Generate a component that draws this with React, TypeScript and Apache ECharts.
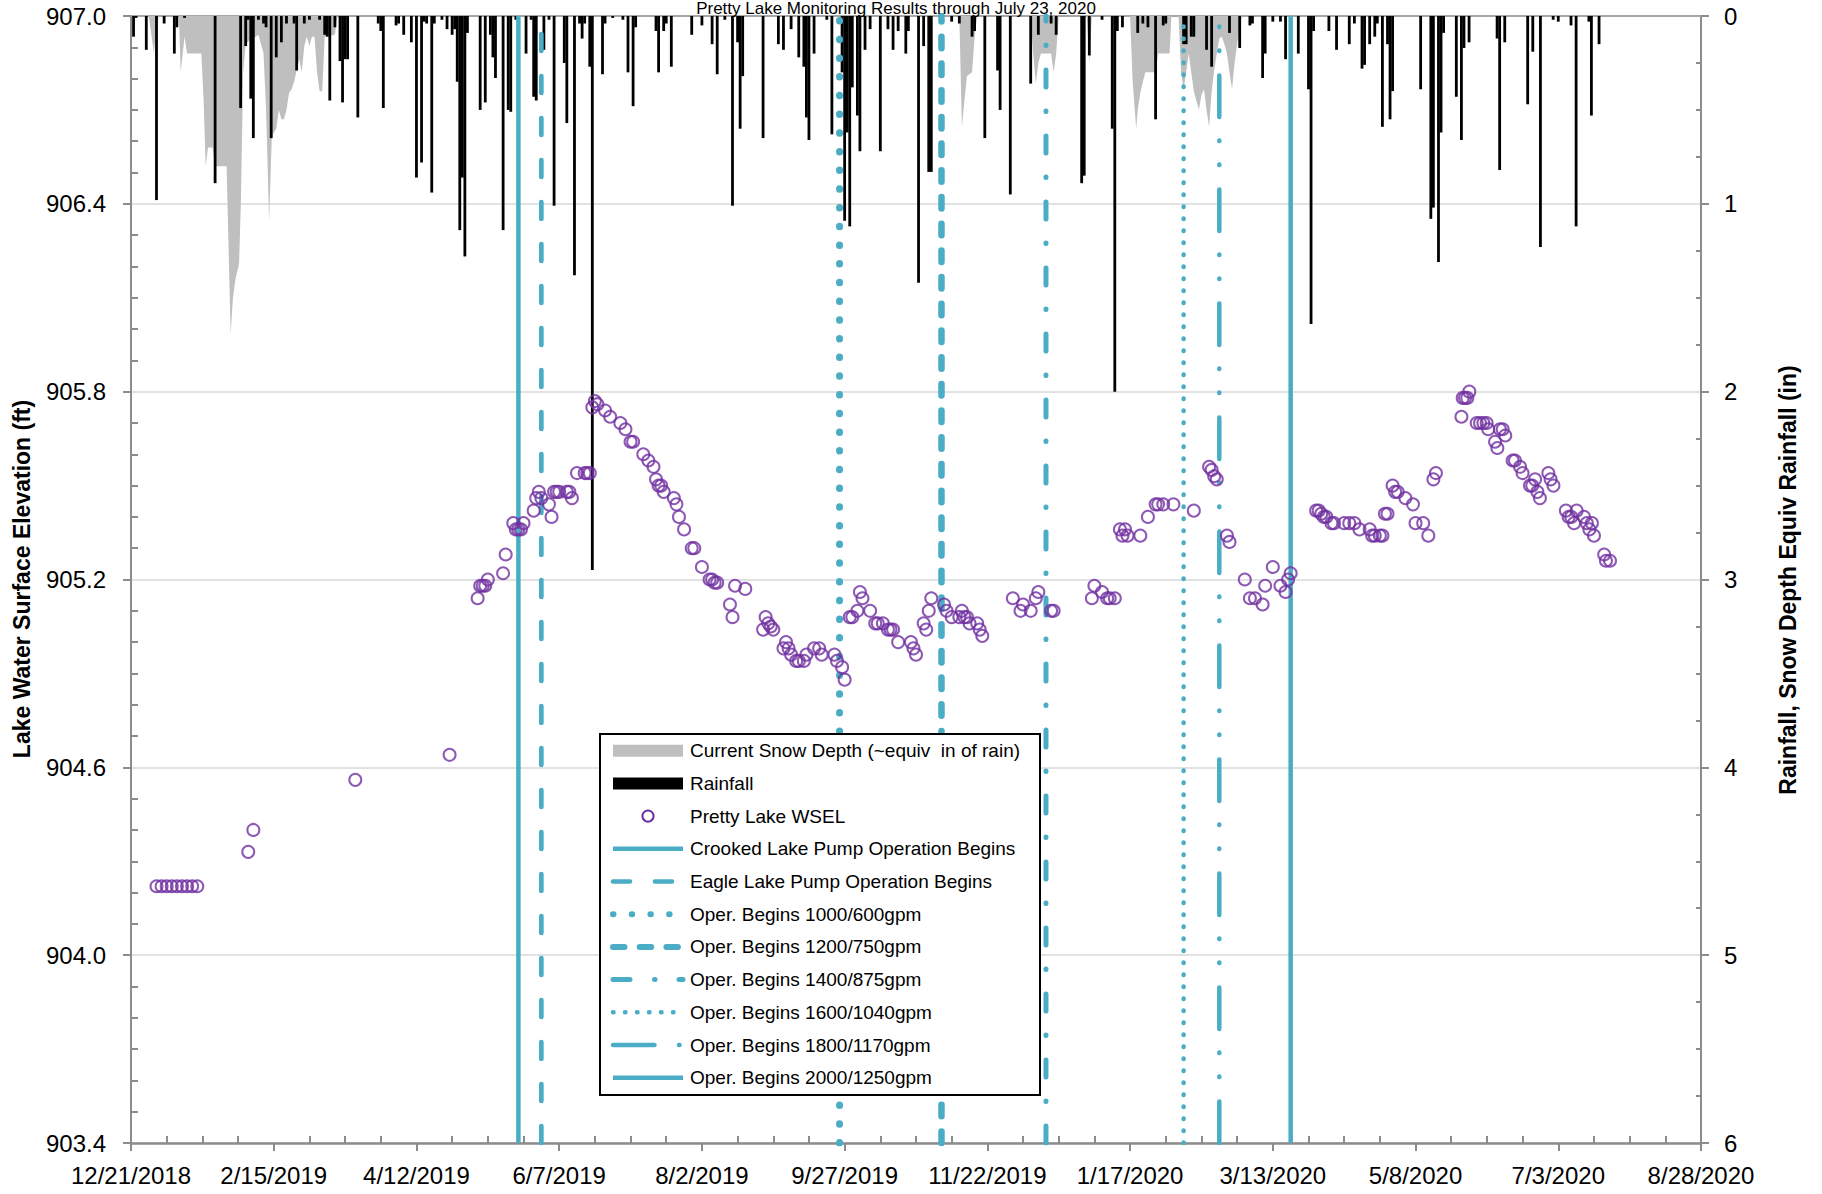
import React, { useEffect, useRef } from "react";
import * as echarts from "echarts";

// ---------- DATA (x values are days since 12/21/2018) ----------
const START_UTC = Date.UTC(2018, 11, 21);
const X_MIN_DAY = 0;
const X_MAX_DAY = 616;
const X_STEP_DAYS = 56;

const TITLE = "Pretty Lake Monitoring Results through July 23, 2020";
const LEFT_AXIS_NAME = "Lake Water Surface Elevation (ft)";
const RIGHT_AXIS_NAME = "Rainfall, Snow Depth Equiv Rainfall (in)";

const ELEV_MIN = 903.4;
const ELEV_MAX = 907.0;
const ELEV_STEP = 0.6;
const RAIN_MIN = 0;
const RAIN_MAX = 6;
const RAIN_STEP = 1;

// Pretty Lake WSEL [day, ft]
const wsel: [number, number][] = [
  [10, 904.22], [12, 904.22], [14, 904.22], [16, 904.22], [18, 904.22], [20, 904.22], [22, 904.22], [24, 904.22], [26, 904.22],
  [46, 904.33], [48, 904.40], [88, 904.56], [125, 904.64],
  [136, 905.14], [137, 905.18], [138, 905.18], [139, 905.18], [140, 905.20], [146, 905.22], [147, 905.28],
  [150, 905.38], [151, 905.36], [152, 905.36], [153, 905.36], [154, 905.38], [158, 905.42], [159, 905.46],
  [160, 905.48], [161, 905.46], [164, 905.44], [165, 905.40], [166, 905.48], [167, 905.48], [168, 905.48],
  [171, 905.48], [172, 905.48], [173, 905.46], [175, 905.54], [178, 905.54], [179, 905.54], [180, 905.54],
  [181, 905.75], [182, 905.77], [183, 905.76], [186, 905.74], [188, 905.72], [192, 905.70], [194, 905.68],
  [196, 905.64], [197, 905.64], [201, 905.60], [203, 905.58], [205, 905.56], [206, 905.52], [207, 905.50],
  [208, 905.50], [209, 905.48], [213, 905.46], [214, 905.44], [215, 905.40], [217, 905.36], [220, 905.30],
  [221, 905.30], [224, 905.24], [227, 905.20], [228, 905.20], [229, 905.19], [230, 905.19], [235, 905.12],
  [236, 905.08], [237, 905.18], [241, 905.17], [248, 905.04], [249, 905.08], [250, 905.06], [251, 905.05],
  [252, 905.04], [256, 904.98], [257, 905.00], [258, 904.98], [259, 904.96], [261, 904.94], [262, 904.94],
  [264, 904.94], [265, 904.96], [268, 904.98], [270, 904.98], [271, 904.96], [276, 904.96], [277, 904.94],
  [279, 904.92], [280, 904.88],
  [282, 905.08], [283, 905.08], [285, 905.10], [286, 905.16], [287, 905.14], [290, 905.10], [292, 905.06],
  [293, 905.06], [295, 905.06], [297, 905.04], [298, 905.04], [299, 905.04], [301, 905.00], [306, 905.00],
  [307, 904.98], [308, 904.96], [311, 905.06], [312, 905.04], [313, 905.10], [314, 905.14], [319, 905.12],
  [320, 905.10], [322, 905.08], [325, 905.08], [326, 905.10], [327, 905.08], [328, 905.08], [329, 905.06],
  [332, 905.06], [333, 905.04], [334, 905.02],
  [346, 905.14], [349, 905.10], [350, 905.12], [353, 905.10], [355, 905.14], [356, 905.16], [361, 905.10], [362, 905.10],
  [377, 905.14], [378, 905.18], [381, 905.16], [383, 905.14], [384, 905.14], [386, 905.14],
  [388, 905.36], [389, 905.34], [390, 905.36], [391, 905.34], [396, 905.34], [399, 905.40], [402, 905.44],
  [403, 905.44], [405, 905.44], [409, 905.44], [417, 905.42],
  [423, 905.56], [424, 905.55], [425, 905.53], [426, 905.52], [430, 905.34], [431, 905.32],
  [437, 905.20], [439, 905.14], [441, 905.14], [444, 905.12], [445, 905.18], [448, 905.24], [451, 905.18],
  [453, 905.16], [454, 905.20], [455, 905.22],
  [465, 905.42], [466, 905.42], [467, 905.41], [468, 905.40], [469, 905.40], [471, 905.38], [472, 905.38],
  [476, 905.38], [478, 905.38], [480, 905.38], [482, 905.36], [486, 905.36], [487, 905.34], [488, 905.34],
  [490, 905.34], [491, 905.34], [492, 905.41], [493, 905.41], [495, 905.50], [496, 905.48], [497, 905.48],
  [500, 905.46], [503, 905.44], [504, 905.38], [507, 905.38], [509, 905.34], [511, 905.52], [512, 905.54],
  [522, 905.72], [522.5, 905.78], [523.4, 905.78], [524.3, 905.78], [525.1, 905.80],
  [528, 905.70], [529.3, 905.70], [530.6, 905.70], [531.9, 905.70], [532.5, 905.68], [535.2, 905.64],
  [536.1, 905.62], [537.1, 905.68], [538.2, 905.68], [539.2, 905.66], [542.1, 905.58], [543, 905.58],
  [545, 905.56], [546, 905.54], [548.9, 905.50], [549.8, 905.50], [550.9, 905.52], [551.8, 905.48],
  [552.8, 905.46], [556.1, 905.54], [557, 905.52], [558.1, 905.50], [563, 905.42], [564.1, 905.40],
  [565.1, 905.40], [566.2, 905.38], [567.2, 905.42], [570.1, 905.40], [571.2, 905.38], [572.2, 905.36],
  [573.2, 905.38], [574, 905.34], [578, 905.28], [578.7, 905.26], [580.3, 905.26],
];

// Daily rainfall [day, in]
const rainfall: [number, number][] = [
  [1, 0.11], [2, 0.01], [6, 0.18], [10, 0.98], [13, 0.04], [17, 0.2], [18, 0.06], [21, 0.01], [33, 0.89],
  [43, 0.49], [45, 0.16], [46, 0.02], [47, 0.44], [48, 0.65], [50, 0.02], [52, 0.04], [53, 0.06], [55, 0.65],
  [57, 0.22], [59, 0.14], [61, 0.04], [64, 0.04], [65, 0.29], [68, 0.04], [70, 0.02], [74, 0.02], [76, 0.1],
  [77, 0.11], [78, 0.45], [80, 0.06], [82, 0.24], [83, 0.46], [84, 0.23], [85, 0.23], [89, 0.54], [97, 0.04],
  [98, 0.08], [99, 0.49], [104, 0.05], [105, 0.04], [107, 0.1], [110, 0.14], [112, 0.86], [114, 0.78],
  [115, 0.03], [116, 0.04], [118, 0.94], [119, 0.04], [122, 0.02], [124, 0.07], [126, 0.1], [127, 0.07],
  [128, 0.35], [129, 1.14], [130, 0.86], [131, 1.28], [132, 0.09], [137, 0.5], [139, 0.46], [141, 0.1],
  [142, 0.22], [143, 0.33], [146, 1.14], [148, 0.5], [149, 0.51], [151, 0.02], [155, 0.2], [157, 0.02],
  [158, 0.43], [159, 0.45], [162, 0.18], [164, 0.02], [166, 1.01], [170, 0.25], [171, 0.57], [174, 1.38],
  [176, 0.04], [177, 0.12], [178, 0.04], [180, 0.27], [181, 2.95], [185, 0.31], [186, 0.04], [189, 0.01],
  [193, 0.02], [195, 0.3], [197, 0.48], [198, 0.06], [206, 0.08], [207, 0.3], [209, 0.08], [210, 0.04],
  [212, 0.27], [220, 0.1], [224, 0.05], [228, 0.15], [230, 0.31], [233, 0.02], [236, 1.01], [238, 0.14],
  [239, 0.6], [240, 0.32], [248, 0.65], [254, 0.15], [256, 0.18], [259, 0.07], [262, 0.22], [264, 0.27],
  [265, 0.54], [266, 0.66], [268, 0.2], [273, 0.02], [275, 0.63], [279, 0.3], [280, 1.09], [281, 0.62],
  [282, 1.12], [283, 0.38], [285, 0.53], [286, 0.72], [288, 0.18], [290, 0.07], [294, 0.72], [297, 0.07],
  [299, 0.18], [301, 0.08], [304, 0.2], [305, 0.08], [309, 1.42], [311, 0.16], [313, 0.83], [314, 0.83],
  [322, 0.03], [325, 0.04], [330, 0.11], [331, 0.08], [335, 0.65], [340, 0.29], [341, 0.5], [345, 0.95],
  [353, 0.36], [356, 0.1], [361, 0.04], [363, 0.1], [373, 0.89], [374, 0.85], [376, 0.21], [381, 0.02],
  [385, 0.6], [386, 2.0], [387, 0.08], [389, 0.06], [395, 0.09], [397, 0.04], [399, 0.06], [402, 0.55],
  [405, 0.05], [406, 0.04], [413, 0.15], [414, 0.15], [416, 0.11], [417, 0.11], [422, 0.18], [424, 0.27],
  [431, 0.09], [435, 0.17], [439, 0.05], [440, 0.04], [444, 0.33], [445, 0.2], [448, 0.03], [451, 0.03],
  [453, 0.23], [458, 0.2], [462, 0.39], [463, 1.64], [464, 0.08], [470, 0.08], [473, 0.18], [478, 0.15],
  [480, 0.04], [483, 0.28], [484, 0.26], [486, 0.15], [488, 0.11], [489, 0.04], [491, 0.59], [493, 0.15],
  [494, 0.55], [495, 0.4], [506, 0.39], [510, 1.08], [511, 1.02], [513, 1.31], [514, 0.62], [515, 0.09],
  [520, 0.43], [522, 0.66], [523, 0.17], [525, 0.14], [536, 0.12], [537, 0.82], [539, 0.14], [548, 0.47],
  [550, 0.19], [553, 1.23], [558, 0.02], [560, 0.03], [565, 0.05], [567, 1.12], [572, 0.03], [573, 0.53],
  [576, 0.15],
];

// Current snow depth, equivalent inches of rain [day, in]
const snowDepth: [number, number][] = [
  [0, 0], [7, 0], [8, 0.1], [9, 0.2], [10, 0.05], [11, 0],
  [18.8, 0], [19.5, 0.3], [21, 0.11], [22, 0.2], [27.6, 0.2], [28.5, 0.45], [29.3, 0.8], [30.2, 0.7],
  [32, 0.7], [33, 0.8], [37.5, 0.8], [39.1, 1.69], [40, 1.5], [41, 1.4], [42.4, 1.32], [43.1, 1.0],
  [44, 0.3], [45, 0.15], [47, 0.12], [49, 0.11], [50, 0.1], [51, 0.15], [52, 0.2], [53, 0.5], [54.2, 1.09],
  [55.2, 0.66], [56, 0.62], [57, 0.6], [58, 0.5], [59, 0.55], [60, 0.55], [61, 0.5], [62, 0.41], [63, 0.39],
  [64, 0.35], [65, 0.29], [66, 0.23], [67, 0.3], [68, 0.16], [69, 0.11], [70, 0.16], [71, 0.11], [72, 0.11],
  [73, 0.3], [74, 0.4], [75, 0.4], [76, 0.11], [80, 0.1], [81, 0],
  [325, 0], [326, 0.59], [327, 0.45], [328, 0.32], [330, 0.3], [331, 0.11], [332, 0],
  [353, 0], [354, 0.2], [355, 0.36], [356, 0.25], [357, 0.2], [361, 0.2], [362, 0.3], [363, 0.2], [364, 0],
  [375, 0], [376, 0.25], [377, 0],
  [392, 0], [393, 0.35], [394.4, 0.6], [395, 0.5], [396, 0.41], [397, 0.35], [398, 0.3], [402, 0.3],
  [403, 0.2], [407.5, 0.2], [408.2, 0],
  [411, 0], [412, 0.3], [413, 0.39], [414, 0.3], [415, 0.2], [416, 0.3], [417, 0.4], [419, 0.5], [420, 0.42],
  [421, 0.39], [422, 0.5], [423, 0.59], [424, 0.4], [425, 0.29], [426, 0.2], [427, 0.12], [428, 0.11],
  [429, 0.15], [430, 0.2], [431, 0.3], [432, 0.39], [433, 0.25], [434, 0.15], [435, 0.05], [436, 0],
  [616, 0],
];

// Operation start markers
const markerNames = [
  "Crooked Lake Pump Operation Begins",
  "Eagle Lake Pump Operation Begins",
  "Oper. Begins 1000/600gpm",
  "Oper. Begins 1200/750gpm",
  "Oper. Begins 1400/875gpm",
  "Oper. Begins 1600/1040gpm",
  "Oper. Begins 1800/1170gpm",
  "Oper. Begins 2000/1250gpm",
];
const markerDays = [152, 161, 278, 318, 359, 413, 427, 455];

const SNOW_NAME = "Current Snow Depth (~equiv  in of rain)";
const RAIN_NAME = "Rainfall";
const WSEL_NAME = "Pretty Lake WSEL";

// ---------- STYLES ----------
const FONT = '"Liberation Sans", Arial, sans-serif';
const LINE_BLUE = "#4BACC6";
const PURPLE = "#7030A0";
const SNOW_GRAY = "#BFBFBF";
const AXIS_GRAY = "#8C8C8C";

type MS = { width: number; dash: number[] | "solid" };
const markerStyles: MS[] = [
  { width: 4.5, dash: "solid" },
  { width: 4.7, dash: [17, 25] },
  { width: 7, dash: [0.5, 18.2] },
  { width: 6.5, dash: [11.5, 15.2] },
  { width: 5, dash: [17, 24.5, 0.5, 24] },
  { width: 4.5, dash: [0.5, 11.5] },
  { width: 4.5, dash: [41.5, 24.5, 0.5, 23.5, 0.5, 23.5] },
  { width: 4.5, dash: "solid" },
];

function dayLabel(v: number): string {
  const d = new Date(START_UTC + Math.round(v) * 86400000);
  return `${d.getUTCMonth() + 1}/${d.getUTCDate()}/${d.getUTCFullYear()}`;
}

function buildLegend(): any[] {
  const x0 = 600, y0 = 734, w = 440, h = 361;
  const rowY = (i: number) => 750.7 + i * 32.7;
  const ix1 = 613, ix2 = 683, tx = 690;
  const els: any[] = [
    { type: "rect", shape: { x: x0, y: y0, width: w, height: h }, style: { fill: "#fff", stroke: "#000", lineWidth: 2 } },
    { type: "rect", shape: { x: ix1, y: rowY(0) - 6, width: ix2 - ix1, height: 12 }, style: { fill: SNOW_GRAY } },
    { type: "rect", shape: { x: ix1, y: rowY(1) - 6, width: ix2 - ix1, height: 12 }, style: { fill: "#000" } },
    { type: "circle", shape: { cx: (ix1 + ix2) / 2, cy: rowY(2), r: 5.6 }, style: { fill: "none", stroke: PURPLE, lineWidth: 2 } },
  ];
  const names = [SNOW_NAME, RAIN_NAME, WSEL_NAME, ...markerNames];
  markerStyles.forEach((s, i) => {
    const y = rowY(i + 3);
    els.push({
      type: "line",
      shape: { x1: ix1, y1: y, x2: ix2, y2: y },
      style: {
        stroke: LINE_BLUE,
        lineWidth: Math.min(s.width, 6),
        lineDash: s.dash === "solid" ? null : s.dash,
        lineCap: s.dash === "solid" ? "butt" : "round",
      },
    });
  });
  names.forEach((n, i) => {
    els.push({
      type: "text",
      style: { x: tx, y: rowY(i), text: n, font: `19px ${FONT}`, fill: "#000", align: "left", verticalAlign: "middle" },
    });
  });
  return els.map((e) => ({ ...e, z: 100 }));
}

export default function App() {
  const ref = useRef<HTMLDivElement>(null);
  useEffect(() => {
    if (!ref.current) return;
    const chart = echarts.init(ref.current, undefined, { renderer: "svg" });

    const markerSeries = markerNames.map((name, i) => ({
      name,
      type: "line",
      xAxisIndex: 0,
      yAxisIndex: 0,
      data: [
        [markerDays[i], ELEV_MIN],
        [markerDays[i], ELEV_MAX],
      ],
      symbol: "none",
      silent: true,
      z: 3,
      lineStyle: {
        color: LINE_BLUE,
        width: markerStyles[i].width,
        type: markerStyles[i].dash,
        cap: markerStyles[i].dash === "solid" ? "butt" : "round",
      },
    }));

    const axisLabelBase = { fontFamily: FONT, fontSize: 24, color: "#000" };

    chart.setOption({
      animation: false,
      backgroundColor: "#fff",
      grid: { left: 131, right: 121, top: 16, bottom: 51, outerBoundsMode: "none" },
      xAxis: [
        {
          type: "value",
          min: X_MIN_DAY,
          max: X_MAX_DAY,
          interval: X_STEP_DAYS,
          position: "bottom",
          axisLine: { show: true, onZero: false, lineStyle: { color: AXIS_GRAY, width: 2.5 } },
          axisTick: { show: true, length: 8, lineStyle: { color: AXIS_GRAY, width: 2 } },
          minorTick: { show: true, splitNumber: 4, length: -7, lineStyle: { color: AXIS_GRAY, width: 2 } },
          axisLabel: { ...axisLabelBase, margin: 20, formatter: (v: number) => dayLabel(v) },
          splitLine: { show: false },
        },
        {
          type: "value",
          min: X_MIN_DAY,
          max: X_MAX_DAY,
          position: "top",
          axisLine: { show: true, onZero: false, lineStyle: { color: "#A6A6A6", width: 2 } },
          axisTick: { show: false },
          axisLabel: { show: false },
          splitLine: { show: false },
        },
      ],
      yAxis: [
        {
          type: "value",
          min: ELEV_MIN,
          max: ELEV_MAX,
          interval: ELEV_STEP,
          position: "left",
          axisLine: { show: true, onZero: false, lineStyle: { color: AXIS_GRAY, width: 2 } },
          axisTick: { show: true, length: 8, lineStyle: { color: AXIS_GRAY, width: 2 } },
          minorTick: { show: true, splitNumber: 6, length: -7, lineStyle: { color: AXIS_GRAY, width: 2 } },
          axisLabel: { ...axisLabelBase, margin: 25, formatter: (v: number) => v.toFixed(1) },
          splitLine: { show: true, lineStyle: { color: "#D9D9D9", width: 1.5 } },
        },
        {
          type: "value",
          min: RAIN_MIN,
          max: RAIN_MAX,
          interval: RAIN_STEP,
          inverse: true,
          position: "right",
          axisLine: { show: true, onZero: false, lineStyle: { color: AXIS_GRAY, width: 2 } },
          axisTick: { show: true, length: 8, lineStyle: { color: AXIS_GRAY, width: 2 } },
          minorTick: { show: true, splitNumber: 4, length: -5, lineStyle: { color: AXIS_GRAY, width: 2 } },
          axisLabel: { ...axisLabelBase, margin: 23, formatter: (v: number) => String(v) },
          splitLine: { show: false },
        },
      ],
      series: [
        {
          name: SNOW_NAME,
          type: "line",
          xAxisIndex: 0,
          yAxisIndex: 1,
          data: snowDepth,
          symbol: "none",
          silent: true,
          z: 1,
          lineStyle: { width: 0, color: SNOW_GRAY },
          areaStyle: { color: SNOW_GRAY, opacity: 1 },
        },
        {
          name: RAIN_NAME,
          type: "bar",
          xAxisIndex: 0,
          yAxisIndex: 1,
          data: rainfall,
          barWidth: 2.8,
          silent: true,
          z: 2,
          itemStyle: { color: "#000" },
        },
        ...markerSeries,
        {
          name: WSEL_NAME,
          type: "scatter",
          xAxisIndex: 0,
          yAxisIndex: 0,
          data: wsel,
          symbol: "circle",
          symbolSize: 12,
          silent: true,
          z: 4,
          itemStyle: { color: "rgba(0,0,0,0)", borderColor: PURPLE, borderWidth: 2 },
        },
      ],
      graphic: [
        {
          type: "text",
          z: 100,
          style: { x: 896, y: 0, text: TITLE, font: `17px ${FONT}`, fill: "#000", align: "center", verticalAlign: "top" },
        },
        {
          type: "text",
          z: 100,
          x: 22,
          y: 579,
          rotation: Math.PI / 2,
          style: { x: 0, y: 0, text: LEFT_AXIS_NAME, font: `bold 23px ${FONT}`, fill: "#000", align: "center", verticalAlign: "middle" },
        },
        {
          type: "text",
          z: 100,
          x: 1788,
          y: 580,
          rotation: Math.PI / 2,
          style: { x: 0, y: 0, text: RIGHT_AXIS_NAME, font: `bold 23px ${FONT}`, fill: "#000", align: "center", verticalAlign: "middle" },
        },
        ...buildLegend(),
      ],
    });

    return () => chart.dispose();
  }, []);

  return (
    <div
      ref={ref}
      style={{ position: "absolute", left: 0, top: 0, width: 1822, height: 1194, background: "#fff" }}
    />
  );
}
